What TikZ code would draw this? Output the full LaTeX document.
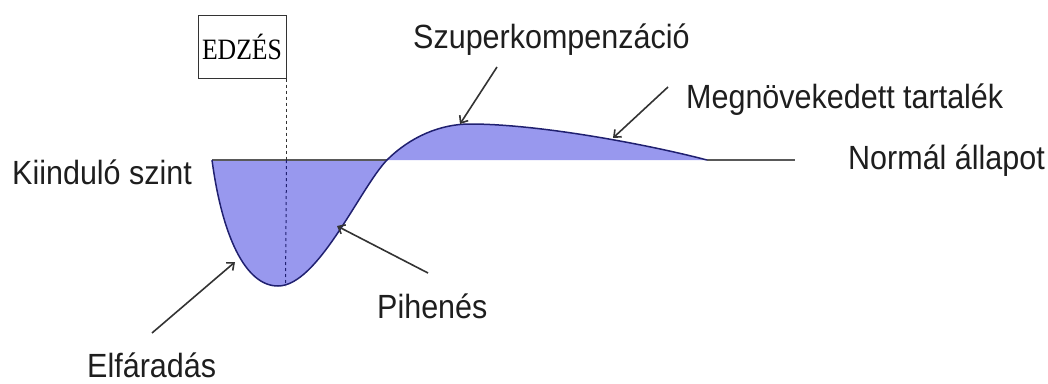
\documentclass[tikz,border=0pt]{standalone}
\usepackage{fontspec}
\setmainfont{Liberation Sans}
\newfontfamily\seriffont{Liberation Serif}
\usetikzlibrary{arrows.meta}
\definecolor{fillblue}{HTML}{9898EE}
\definecolor{navy}{HTML}{202070}
\definecolor{txt}{HTML}{1E1E1E}
\newcommand{\lbl}[1]{\scalebox{1}[1.1]{\fontsize{30.5}{36}\selectfont #1}}
\begin{document}
\begin{tikzpicture}[x=1pt,y=-1pt,
  label/.style={inner sep=0pt,text=txt,anchor=base west},
  pointer/.style={draw=black!80,line width=1.6pt,-{Straight Barb[length=6pt,width=10pt]}},
  curveline/.style={draw=navy,line width=1.5pt},
  base/.style={draw=black!65,line width=1.2pt}]
\useasboundingbox (0,0) rectangle (1048,383);
% filled curve
\fill[fillblue] (212,160) .. controls (222,235) and (245,286) .. (278,286)
  .. controls (318,286) and (360,188) .. (387,160)
  .. controls (410,137) and (440,124) .. (470,124)
  .. controls (540,124) and (650,145) .. (707,160) -- cycle;
% baseline
\coordinate (b0) at (212,160);
\coordinate (b1) at (387,160);
\coordinate (b2) at (707,160);
\coordinate (b3) at (795,160);
\draw[base] (b0) -- (b1);
\draw[base] (b2) -- (b3);
% box and dashed line
\node[draw=black!80,line width=1pt,minimum width=88pt,minimum height=63pt,inner sep=0pt] (edzes) at (242,46.5)
  {\scalebox{1}[1.15]{\seriffont\fontsize{25.7}{30}\selectfont EDZÉS}};
\coordinate (d1) at (edzes.south east |- b0);
\coordinate (d2) at ([xshift=-1pt]edzes.south east |- 0,286);
\draw[dashed,black!80,line width=1pt] (edzes.south east) -- (d1);
\draw[dashed,navy,line width=1pt] (d1) -- (d2);
% outline curve
\draw[curveline] (212,160) .. controls (222,235) and (245,286) .. (278,286)
  .. controls (318,286) and (360,188) .. (387,160)
  .. controls (410,137) and (440,124) .. (470,124)
  .. controls (540,124) and (650,145) .. (707,160);
% labels
\node[label] (kiindulo) at (12,184) {\lbl{Kiinduló szint}};
\node[label] (normal) at (848,169) {\lbl{Normál állapot}};
\node[label] (szuper) at (413,48) {\lbl{Szuperkompenzáció}};
\node[label] (megnov) at (686,108) {\lbl{Megnövekedett tartalék}};
\node[label] (pihenes) at (377,318) {\lbl{Pihenés}};
\node[label] (elfar) at (87,377) {\lbl{Elfáradás}};
% arrow ends
\coordinate (tSz) at (460,124);
\coordinate (tMe) at (613,138);
\coordinate (tPi) at (337,226);
\coordinate (tEl) at (235,262);
\coordinate (sSz) at (497,67);
\coordinate (sMe) at (668,87);
\coordinate (sPi) at (428,273);
\coordinate (sEl) at (152,333);
\draw[pointer] (sSz) -- (tSz);
\draw[pointer] (sMe) -- (tMe);
\draw[pointer] (sPi) -- (tPi);
\draw[pointer] (sEl) -- (tEl);
\end{tikzpicture}
\end{document}
